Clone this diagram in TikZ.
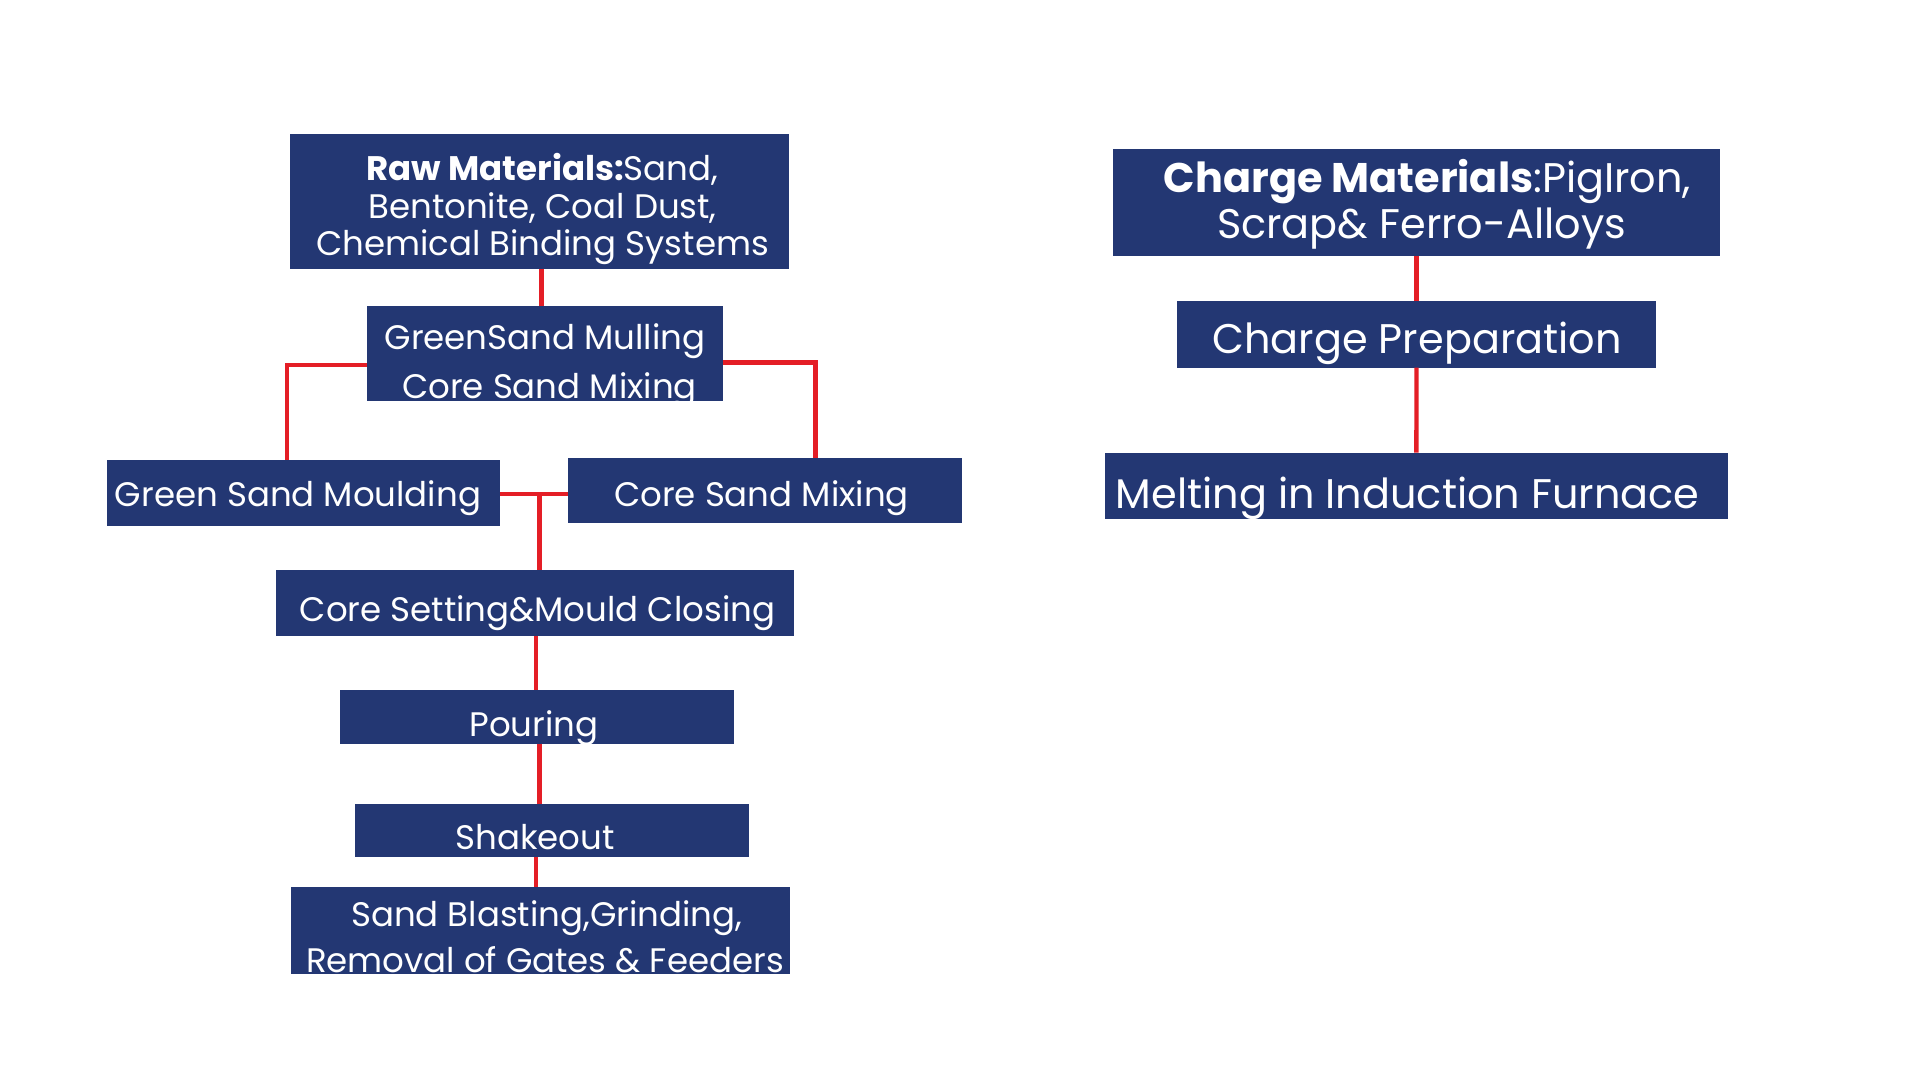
\documentclass[tikz,border=0pt]{standalone}
\usepackage{fontspec}
\setmainfont{Poppins}
\definecolor{navy}{RGB}{35,55,115}
\definecolor{linkred}{RGB}{228,30,38}
\tikzset{
  blk/.style={fill=navy, draw=none, inner sep=0pt, outer sep=0pt},
  ln/.style={text=white, inner sep=0pt, anchor=base},
  link/.style={draw=linkred, line width=2.2pt},
}
\newcommand\fs[1]{\fontsize{#1}{#1}\selectfont}
\begin{document}
\begin{tikzpicture}[x=0.5pt,y=-0.5pt]
\path[use as bounding box, fill=white] (0,0) rectangle (1920,1080);

% left column
\node[blk, minimum width=249.5pt, minimum height=67.5pt,
  path picture={
    \node[ln] at ([xshift=1.5pt,yshift=10.5pt]path picture bounding box.center) {\fs{17}\textbf{Raw Materials:}Sand,};
    \node[ln] at ([xshift=1.5pt,yshift=-8.4pt]path picture bounding box.center) {\fs{17}Bentonite, Coal Dust,};
    \node[ln] at ([xshift=1.5pt,yshift=-26.8pt]path picture bounding box.center) {\fs{17}Chemical Binding Systems};
  }] (raw) at (539.5,201.5) {};

\node[blk, minimum width=178pt, minimum height=47.5pt,
  path picture={
    \node[ln] at ([xshift=0pt,yshift=1.75pt]path picture bounding box.center) {\fs{17}GreenSand Mulling};
    \node[ln] at ([xshift=2.25pt,yshift=-22.25pt]path picture bounding box.center) {\fs{17}Core Sand Mixing};
  }] (mull) at (545,353.5) {};

\node[blk, minimum width=196.5pt, minimum height=32.8pt,
  path picture={
    \node[ln] at ([xshift=-2.7pt,yshift=-7pt]path picture bounding box.center) {\fs{17}Green Sand Moulding};
  }] (gsm) at (303.4,492.8) {};

\node[blk, minimum width=197pt, minimum height=32.6pt,
  path picture={
    \node[ln] at ([xshift=-1.5pt,yshift=-8pt]path picture bounding box.center) {\fs{17}Core Sand Mixing};
  }] (csm) at (764.5,490.7) {};

\node[blk, minimum width=259pt, minimum height=32.8pt,
  path picture={
    \node[ln] at ([xshift=1.25pt,yshift=-9.5pt]path picture bounding box.center) {\fs{17}Core Setting\&Mould Closing};
  }] (setting) at (535,602.8) {};

\node[blk, minimum width=197pt, minimum height=27pt,
  path picture={
    \node[ln] at ([xshift=-1.5pt,yshift=-9.5pt]path picture bounding box.center) {\fs{17}Pouring};
  }] (pour) at (537,717) {};

\node[blk, minimum width=196.8pt, minimum height=26.8pt,
  path picture={
    \node[ln] at ([xshift=-8.4pt,yshift=-9.4pt]path picture bounding box.center) {\fs{17}Shakeout};
  }] (shake) at (551.8,830.5) {};

\node[blk, minimum width=249.5pt, minimum height=43.5pt,
  path picture={
    \node[ln] at ([xshift=2.85pt,yshift=1.9pt]path picture bounding box.center) {\fs{17}Sand Blasting,Grinding,};
    \node[ln] at ([xshift=2pt,yshift=-20.75pt]path picture bounding box.center) {\fs{17}Removal of Gates \& Feeders};
  }] (sand) at (540.9,930.5) {};

% right column
\node[blk, minimum width=303.5pt, minimum height=53.3pt,
  path picture={
    \node[ln] at ([xshift=5.5pt,yshift=4.8pt]path picture bounding box.center) {\fs{20.7}\textbf{Charge Materials}:PigIron,};
    \node[ln] at ([xshift=2.5pt,yshift=-18pt]path picture bounding box.center) {\fs{20.7}Scrap\& Ferro-Alloys};
  }] (charge) at (1416.5,202.3) {};

\node[blk, minimum width=239.5pt, minimum height=33.3pt,
  path picture={
    \node[ln] at ([xshift=0.25pt,yshift=-9.5pt]path picture bounding box.center) {\fs{20.7}Charge Preparation};
  }] (prep) at (1416.5,334.3) {};

\node[blk, minimum width=311.4pt, minimum height=33.3pt,
  path picture={
    \node[ln] at ([xshift=-4.4pt,yshift=-11.15pt]path picture bounding box.center) {\fs{20.7}Melting in Induction Furnace};
  }] (melt) at (1416.4,486) {};

% connectors
\draw[link] ([xshift=1pt]raw.south) -- ([xshift=1pt]raw.south |- mull.north);
\draw[link] ([yshift=-5.75pt]mull.west) -| ([xshift=-8.25pt]gsm.north);
\draw[link] ([yshift=-4.6pt]mull.east) -| ([xshift=25.5pt]csm.north);
\coordinate (j) at (539.4,494);
\draw[link] (gsm.east |- j) -- (csm.west |- j);
\draw[link] (j) -- (j |- setting.north);
\draw[link] ([xshift=0.5pt]setting.south) -- ([xshift=0.5pt]setting.south |- pour.north);
\draw[link] ([xshift=1.15pt]pour.south) -- ([xshift=1.15pt]pour.south |- shake.north);
\draw[link] ([xshift=-2.45pt]sand.north |- shake.south) -- ([xshift=-2.45pt]sand.north);
\draw[link] (charge.south) -- (prep.north);
\draw[link] (prep.south) -- (melt.north);
\end{tikzpicture}
\end{document}
